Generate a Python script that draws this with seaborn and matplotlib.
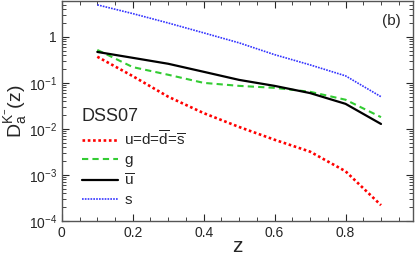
import matplotlib
matplotlib.use("Agg")
import matplotlib.pyplot as plt
import matplotlib.ticker as mticker
import seaborn as sns
import numpy as np

z = [0.1, 0.2, 0.3, 0.4, 0.5, 0.6, 0.7, 0.8, 0.9]
d_light = [0.37, 0.14, 0.05, 0.022, 0.011, 0.0058, 0.0032, 0.0012, 0.00022]
d_g = [0.52, 0.22, 0.15, 0.10, 0.086, 0.078, 0.064, 0.043, 0.018]
d_ubar = [0.47, 0.35, 0.26, 0.174, 0.116, 0.086, 0.06, 0.035, 0.0128]
d_s = [4.96, 3.2, 2.0, 1.22, 0.74, 0.41, 0.246, 0.142, 0.05]

labels = [r"u=d=$\overline{\mathrm{d}}$=$\overline{\mathrm{s}}$", "g", r"$\overline{\mathrm{u}}$", "s"]
colors = ["#ff0000", "#33cc33", "#000000", "#3333ff"]

sns.set_style("ticks")
plt.rcParams["font.family"] = ["Liberation Sans", "DejaVu Sans"]
plt.rcParams["mathtext.fontset"] = "custom"
plt.rcParams["mathtext.rm"] = "Liberation Sans"
plt.rcParams["mathtext.it"] = "Liberation Sans:italic"
plt.rcParams["mathtext.bf"] = "Liberation Sans:bold"

fig = plt.figure(figsize=(4.15, 2.59), dpi=100)
ax = fig.add_axes([0.149, 0.147, 0.846, 0.849])

styles = [
    dict(linestyle=(0, (1, 1)), linewidth=1.9),
    dict(linestyle=(0, (3, 2)), linewidth=1.5),
    dict(linestyle="-", linewidth=1.6),
    dict(linestyle=(0, (1, 0.7)), linewidth=1.2),
]
for ys, lab, c, st in zip([d_light, d_g, d_ubar, d_s], labels, colors, styles):
    sns.lineplot(x=z, y=ys, ax=ax, color=c, label=lab, **st)

ax.set_yscale("log")
ax.set_xlim(0, 0.99)
ax.set_ylim(1e-4, 6)
ax.set_xticks([0, 0.2, 0.4, 0.6, 0.8])
ax.set_xticklabels(["0", "0.2", "0.4", "0.6", "0.8"])
ax.xaxis.set_minor_locator(mticker.MultipleLocator(0.05))
ax.set_yticks([1e-4, 1e-3, 1e-2, 1e-1, 1])
ax.set_yticklabels([r"10$^{-4}$", r"10$^{-3}$", r"10$^{-2}$", r"10$^{-1}$", "1"])
ax.yaxis.set_minor_locator(mticker.LogLocator(base=10, subs=np.arange(2, 10)))
ax.yaxis.set_minor_formatter(mticker.NullFormatter())
ax.tick_params(which="both", direction="in", top=True, right=True, labelsize=10)
ax.tick_params(which="major", length=5, width=0.8)
ax.tick_params(which="minor", length=3, width=0.6)
for sp in ax.spines.values():
    sp.set_color("#555555")
    sp.set_linewidth(1.0)

ax.set_xlabel("z", fontsize=15, labelpad=-2)
ax.set_ylabel(r"D$_\mathrm{a}^{\mathrm{K}^{-}}$(z)", fontsize=14, labelpad=0)
ax.text(0.94, 0.91, "(b)", transform=ax.transAxes, fontsize=11, ha="center", va="center")

leg = ax.legend(title="DSS07", loc="lower left", bbox_to_anchor=(0.03, 0.02), frameon=False,
                fontsize=11, title_fontsize=13, handlelength=2.4, handletextpad=0.4,
                labelspacing=0.32, borderaxespad=0.2)
leg._legend_box.align = "left"

fig.savefig("out.png", dpi=100)
